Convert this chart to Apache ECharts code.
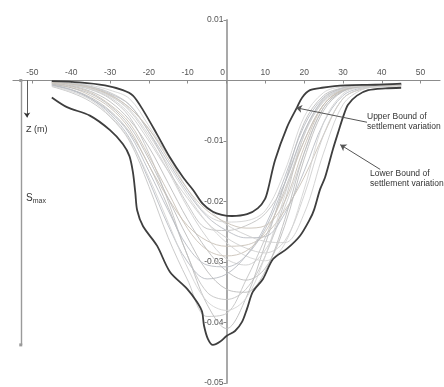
<!DOCTYPE html>
<html>
<head>
<meta charset="utf-8">
<script src="https://cdn.jsdelivr.net/npm/echarts@6/dist/echarts.min.js"></script>
<style>
html, body { margin: 0; padding: 0; background: #fff; }
#chart { width: 444px; height: 387px; }
</style>
</head>
<body>
<div id="chart"></div>
<script>
// distance from tunnel axis (m), shared by all measured profiles
const profileX = [-45, -40, -35, -30, -25, -20, -15, -10, -5, 0, 5, 10, 15, 20, 25, 30, 35, 40, 45];

// settlement (m) of each measured profile at profileX
const profiles = [
    [-0.0004,-0.0008,-0.0015,-0.0030,-0.0060,-0.0120,-0.0200,-0.0290,-0.0350,-0.0362,-0.0345,-0.0290,-0.0200,-0.0090,-0.0035,-0.0015,-0.0009,-0.0007,-0.0006],
    [-0.0008,-0.0015,-0.0028,-0.0050,-0.0085,-0.0140,-0.0210,-0.0290,-0.0370,-0.0410,-0.0360,-0.0270,-0.0170,-0.0070,-0.0025,-0.0012,-0.0008,-0.0006,-0.0005],
    [-0.0003,-0.0006,-0.0012,-0.0025,-0.0050,-0.0095,-0.0150,-0.0210,-0.0260,-0.0295,-0.0305,-0.0280,-0.0210,-0.0120,-0.0045,-0.0018,-0.0010,-0.0008,-0.0007],
    [-0.0002,-0.0005,-0.0010,-0.0022,-0.0040,-0.0085,-0.0135,-0.0185,-0.0225,-0.0248,-0.0260,-0.0258,-0.0220,-0.0150,-0.0070,-0.0025,-0.0012,-0.0009,-0.0008],
    [-0.0006,-0.0012,-0.0025,-0.0045,-0.0080,-0.0140,-0.0195,-0.0240,-0.0265,-0.0274,-0.0272,-0.0255,-0.0215,-0.0160,-0.0090,-0.0030,-0.0014,-0.0010,-0.0009],
    [-0.0002,-0.0004,-0.0008,-0.0016,-0.0030,-0.0075,-0.0125,-0.0180,-0.0222,-0.0234,-0.0232,-0.0215,-0.0150,-0.0060,-0.0020,-0.0010,-0.0008,-0.0007,-0.0006],
    [-0.0010,-0.0020,-0.0035,-0.0060,-0.0100,-0.0175,-0.0260,-0.0330,-0.0390,-0.0385,-0.0330,-0.0260,-0.0180,-0.0100,-0.0040,-0.0016,-0.0010,-0.0008,-0.0007],
    [-0.0004,-0.0009,-0.0018,-0.0035,-0.0065,-0.0110,-0.0170,-0.0230,-0.0280,-0.0315,-0.0330,-0.0310,-0.0240,-0.0130,-0.0050,-0.0018,-0.0010,-0.0008,-0.0007],
    [-0.0003,-0.0007,-0.0014,-0.0028,-0.0055,-0.0100,-0.0150,-0.0195,-0.0235,-0.0260,-0.0277,-0.0285,-0.0265,-0.0190,-0.0090,-0.0030,-0.0013,-0.0009,-0.0008],
    [-0.0007,-0.0015,-0.0030,-0.0055,-0.0095,-0.0165,-0.0240,-0.0300,-0.0328,-0.0320,-0.0290,-0.0240,-0.0160,-0.0075,-0.0028,-0.0013,-0.0009,-0.0007,-0.0006],
    [-0.0005,-0.0010,-0.0020,-0.0040,-0.0070,-0.0125,-0.0185,-0.0245,-0.0280,-0.0290,-0.0282,-0.0250,-0.0185,-0.0100,-0.0040,-0.0016,-0.0010,-0.0008,-0.0007],
    [-0.0003,-0.0006,-0.0013,-0.0026,-0.0048,-0.0090,-0.0140,-0.0190,-0.0235,-0.0268,-0.0290,-0.0298,-0.0270,-0.0180,-0.0070,-0.0022,-0.0011,-0.0009,-0.0008],
    [-0.0002,-0.0005,-0.0010,-0.0020,-0.0040,-0.0085,-0.0145,-0.0205,-0.0245,-0.0248,-0.0240,-0.0220,-0.0170,-0.0085,-0.0030,-0.0012,-0.0008,-0.0007,-0.0006],
    [-0.0006,-0.0012,-0.0022,-0.0042,-0.0075,-0.0130,-0.0195,-0.0260,-0.0315,-0.0345,-0.0350,-0.0315,-0.0230,-0.0120,-0.0045,-0.0017,-0.0010,-0.0008,-0.0007],
    [-0.0002,-0.0005,-0.0011,-0.0023,-0.0045,-0.0080,-0.0125,-0.0170,-0.0210,-0.0238,-0.0255,-0.0266,-0.0268,-0.0220,-0.0120,-0.0040,-0.0015,-0.0010,-0.0009],
    [-0.0008,-0.0016,-0.0030,-0.0052,-0.0088,-0.0150,-0.0215,-0.0275,-0.0305,-0.0308,-0.0290,-0.0245,-0.0170,-0.0085,-0.0032,-0.0014,-0.0009,-0.0007,-0.0006],
    [-0.0003,-0.0006,-0.0012,-0.0024,-0.0045,-0.0080,-0.0130,-0.0180,-0.0215,-0.0235,-0.0244,-0.0240,-0.0200,-0.0110,-0.0040,-0.0015,-0.0009,-0.0008,-0.0007],
    [-0.0009,-0.0018,-0.0032,-0.0058,-0.0098,-0.0160,-0.0235,-0.0310,-0.0365,-0.0380,-0.0360,-0.0290,-0.0190,-0.0090,-0.0033,-0.0014,-0.0009,-0.0007,-0.0006]
];

// upper bound of settlement variation (envelope)
const upperX = [-45, -37.8, -31.3, -26.7, -24.1, -21.5, -17.9, -14.6, -11.2, -8.6, -6.1, -3.5, -1.2, 1.4, 5.3, 8.1, 9.9, 10.7, 12.5, 15.6, 18.2, 19.5, 21.5, 24.6, 30.5, 38.3, 45];
const upperY = [-0.0001, -0.0003, -0.0008, -0.0016, -0.0025, -0.0049, -0.0089, -0.0127, -0.0160, -0.0181, -0.0204, -0.0217, -0.0222, -0.0224, -0.0221, -0.0211, -0.0196, -0.0180, -0.0132, -0.0077, -0.0044, -0.0028, -0.0016, -0.0012, -0.0008, -0.0007, -0.0005];

// lower bound of settlement variation (envelope)
const lowerX = [-45, -41.1, -35.2, -30.0, -26.7, -25.0, -24.1, -23.5, -23.0, -21.5, -17.9, -14.6, -10.2, -7.6, -6.3, -5.8, -4.8, -3.5, -1.7, 0.1, 2.2, 4.0, 5.3, 6.8, 9.4, 12.0, 15.6, 18.9, 21.5, 22.6, 24.1, 25.4, 27.4, 29.0, 30.0, 31.3, 33.6, 36.5, 40.9, 45];
const lowerY = [-0.0028, -0.0044, -0.0058, -0.0082, -0.0105, -0.0125, -0.0152, -0.0185, -0.0215, -0.0241, -0.0273, -0.0316, -0.0344, -0.0366, -0.0382, -0.0405, -0.0427, -0.0437, -0.0432, -0.0422, -0.0414, -0.0399, -0.0377, -0.0349, -0.0328, -0.0295, -0.0278, -0.0257, -0.0229, -0.0213, -0.0180, -0.0160, -0.0114, -0.0081, -0.0061, -0.0040, -0.0025, -0.0016, -0.0013, -0.0012];

const xTicks = [-50, -40, -30, -20, -10, 0, 10, 20, 30, 40, 50];
const yTicks = [0.01, -0.01, -0.02, -0.03, -0.04, -0.05];

// annotation anchors (data coords)
const smaxLine = [[-53, 0], [-53, -0.0437]];
const zArrow = [[-51.4, 0], [-51.4, -0.0061]];
const upperArrow = [[36.2, -0.0069], [17.9, -0.0045]];
const lowerArrow = [[39.6, -0.0147], [29.3, -0.0106]];

const greys = ['#c4c4c4', '#bcbcbc', '#cfcfcf', '#b9bcc3', '#c9c2b8', '#d4d4d4'];

function zip(xs, ys) {
    return xs.map((x, i) => [x, ys[i]]);
}

function arrowLine(pts, symbols, size, color, width) {
    return {
        symbol: symbols,
        symbolSize: size,
        silent: true,
        label: { show: false },
        lineStyle: { color: color, width: width, type: 'solid' },
        data: [[{ coord: pts[0] }, { coord: pts[1] }]]
    };
}

let series = [];
for (let i = 0; i < profiles.length; i++) {
    series.push({
        type: 'line',
        data: zip(profileX, profiles[i]),
        symbol: 'none',
        smooth: 0.35,
        lineStyle: { color: greys[i % greys.length], width: 0.9 },
        z: 1
    });
}

series.push({
    name: 'Upper Bound',
    type: 'line',
    data: zip(upperX, upperY),
    symbol: 'none',
    smooth: 0.3,
    lineStyle: { color: '#3e3e3e', width: 1.8 },
    z: 3,
    markLine: arrowLine(upperArrow, ['none', 'arrow'], 6, '#555', 1)
});
series.push({
    name: 'Lower Bound',
    type: 'line',
    data: zip(lowerX, lowerY),
    symbol: 'none',
    smooth: 0.3,
    lineStyle: { color: '#3e3e3e', width: 1.8 },
    z: 3,
    markLine: arrowLine(lowerArrow, ['none', 'arrow'], 6, '#555', 1)
});
// left side dimension lines
series.push({
    type: 'line', data: [], symbol: 'none',
    markLine: arrowLine(smaxLine, ['rect', 'rect'], 3, '#9a9a9a', 1.4)
});
series.push({
    type: 'line', data: [], symbol: 'none',
    markLine: arrowLine(zArrow, ['none', 'arrow'], 5, '#333', 0.8)
});

const font = 'Liberation Sans, Arial, sans-serif';
const gridBox = { left: 13, right: 4, top: 20, bottom: 4 };
const chart = echarts.init(document.getElementById('chart'));
chart.setOption({
    animation: false,
    grid: Object.assign({ outerBoundsMode: 'none' }, gridBox),
    xAxis: {
        type: 'value',
        min: -55,
        max: 55,
        position: 'bottom',
        offset: -302.5,
        axisLine: { onZero: false, lineStyle: { color: '#8c8c8c', width: 1.2 } },
        axisTick: { length: 3, customValues: xTicks, lineStyle: { color: '#8c8c8c' } },
        axisLabel: {
            inside: true, margin: 3, customValues: xTicks,
            fontSize: 8.5, fontFamily: font, color: '#555',
            // the 0 label sits just left of the vertical axis
            formatter: (v) => (v === 0 ? '{z|0}' : String(v)),
            rich: { z: { fontSize: 8.5, fontFamily: font, color: '#555', padding: [0, 8, 0, 0] } }
        },
        splitLine: { show: false }
    },
    yAxis: {
        type: 'value',
        min: -0.05,
        max: 0.01,
        position: 'left',
        offset: -213.5,
        axisLine: { onZero: false, lineStyle: { color: '#a0a0a0', width: 1.8 } },
        axisTick: { length: 3, customValues: yTicks, lineStyle: { color: '#8c8c8c' } },
        axisLabel: {
            margin: 3, customValues: yTicks,
            fontSize: 8.5, fontFamily: font, color: '#555'
        },
        splitLine: { show: false }
    },
    graphic: [
        { type: 'text', left: 26, top: 125, style: { text: 'Z (m)', fontSize: 9, fontFamily: font, fill: '#333' } },
        {
            type: 'text', left: 26, top: 193,
            style: {
                text: '{s|S}{m|max}', fontFamily: font, fill: '#333',
                rich: { s: { fontSize: 10, fontFamily: font }, m: { fontSize: 7, fontFamily: font, padding: [6, 0, 0, 0] } }
            }
        },
        { type: 'text', left: 367, top: 112, style: { text: 'Upper Bound of\nsettlement variation', fontSize: 8.5, lineHeight: 10, fontFamily: font, fill: '#333' } },
        { type: 'text', left: 370, top: 169, style: { text: 'Lower Bound of\nsettlement variation', fontSize: 8.5, lineHeight: 10, fontFamily: font, fill: '#333' } }
    ],
    series: series
});
</script>
</body>
</html>
